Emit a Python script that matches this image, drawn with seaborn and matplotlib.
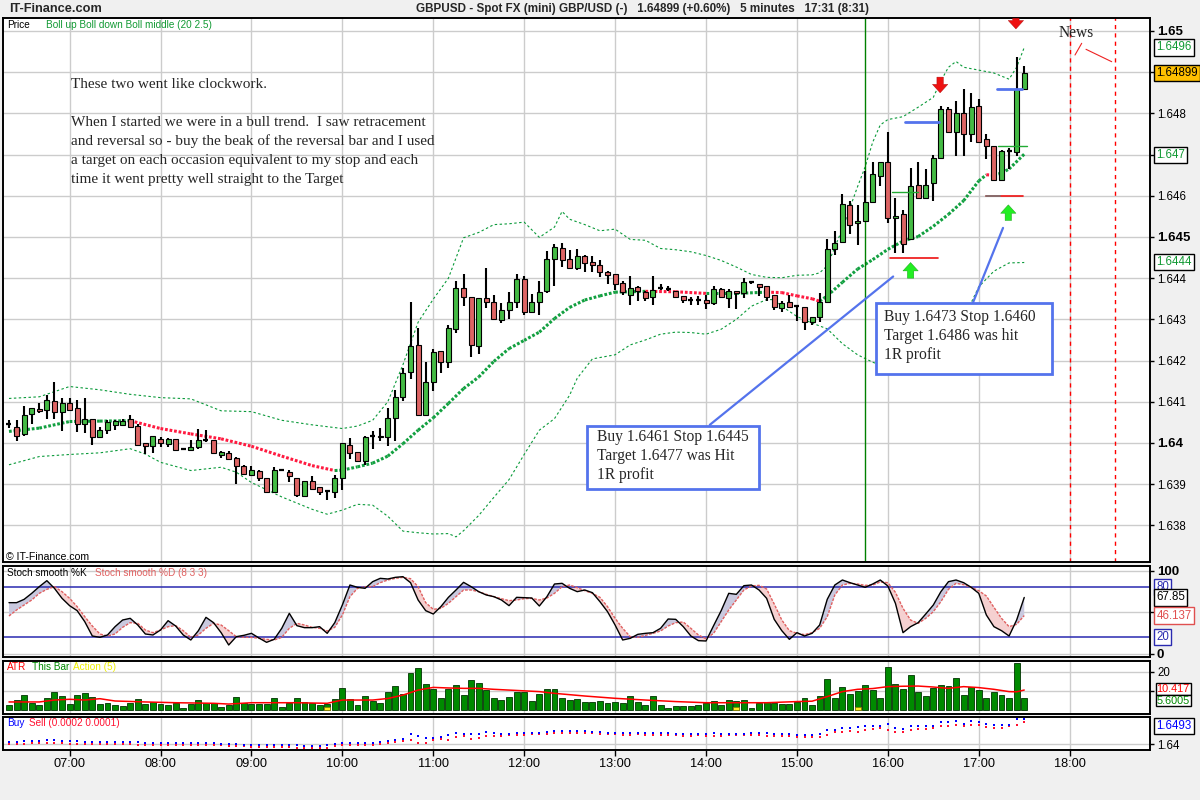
import matplotlib
matplotlib.use("Agg")
import matplotlib.pyplot as plt
import seaborn as sns
import numpy as np
import pandas as pd
from matplotlib.patches import Rectangle
from matplotlib.lines import Line2D
from matplotlib.transforms import blended_transform_factory as btf

# ---------------- data ----------------
hour_bars = [8, 20, 32, 44, 56, 68, 80, 92, 104, 116, 128, 140]
hour_labels = ["07:00", "08:00", "09:00", "10:00", "11:00", "12:00",
               "13:00", "14:00", "15:00", "16:00", "17:00", "18:00"]

opens = [1.64047, 1.64039, 1.64021, 1.64071, 1.64082, 1.64080, 1.64102, 1.64076, 1.64098, 1.64084,
         1.64047, 1.64057, 1.64014, 1.64031, 1.64043, 1.64043, 1.64057, 1.64041, 1.63999, 1.63992,
         1.64010, 1.63998, 1.64010, 1.63986, 1.63983, 1.63989, 1.64006, 1.64006, 1.63971, 1.63975,
         1.63963, 1.63945, 1.63923, 1.63933, 1.63916, 1.63882, 1.63934, 1.63929, 1.63914, 1.63871,
         1.63908, 1.63892, 1.63884, 1.63882, 1.63916, 1.63996, 1.63978, 1.63957, 1.64018, 1.64018,
         1.64014, 1.64061, 1.64112, 1.64172, 1.64237, 1.64068, 1.64148, 1.64222, 1.64196, 1.64277,
         1.64375, 1.64355, 1.64235, 1.64351, 1.64343, 1.64298, 1.64322, 1.64341, 1.64399, 1.64319,
         1.64341, 1.64369, 1.64447, 1.64473, 1.64447, 1.64425, 1.64455, 1.64439, 1.64433, 1.64416,
         1.64409, 1.64389, 1.64358, 1.64378, 1.64367, 1.64355, 1.64377, 1.64374, 1.64369, 1.64356,
         1.64348, 1.64348, 1.64348, 1.64340, 1.64374, 1.64352, 1.64369, 1.64363, 1.64391, 1.64386,
         1.64381, 1.64358, 1.64328, 1.64343, 1.64332, 1.64330, 1.64294, 1.64306, 1.64343, 1.64471,
         1.64488, 1.64578, 1.64534, 1.64538, 1.64584, 1.64649, 1.64683, 1.64545, 1.64555, 1.64496,
         1.64627, 1.64594, 1.64631, 1.64691, 1.64811, 1.64756, 1.64800, 1.64750, 1.64817, 1.64739,
         1.64721, 1.64638, 1.64709, 1.64707, 1.64859]
highs = [1.64055, 1.64055, 1.64090, 1.64084, 1.64096, 1.64116, 1.64149, 1.64108, 1.64108, 1.64104,
         1.64110, 1.64057, 1.64039, 1.64055, 1.64055, 1.64059, 1.64067, 1.64045, 1.64000, 1.64016,
         1.64014, 1.64013, 1.64010, 1.63988, 1.64008, 1.64035, 1.64031, 1.64008, 1.63980, 1.63980,
         1.63965, 1.63947, 1.63943, 1.63934, 1.63916, 1.63941, 1.63936, 1.63934, 1.63914, 1.63908,
         1.63919, 1.63894, 1.63886, 1.63922, 1.64000, 1.64012, 1.63978, 1.64017, 1.64029, 1.64036,
         1.64084, 1.64129, 1.64182, 1.64343, 1.64279, 1.64196, 1.64227, 1.64222, 1.64286, 1.64393,
         1.64409, 1.64355, 1.64353, 1.64425, 1.64359, 1.64339, 1.64367, 1.64409, 1.64405, 1.64361,
         1.64393, 1.64467, 1.64484, 1.64486, 1.64469, 1.64472, 1.64457, 1.64455, 1.64445, 1.64417,
         1.64409, 1.64393, 1.64406, 1.64382, 1.64369, 1.64405, 1.64386, 1.64381, 1.64369, 1.64356,
         1.64355, 1.64356, 1.64358, 1.64381, 1.64377, 1.64374, 1.64370, 1.64401, 1.64394, 1.64386,
         1.64382, 1.64358, 1.64344, 1.64358, 1.64335, 1.64330, 1.64306, 1.64363, 1.64496, 1.64515,
         1.64604, 1.64588, 1.64577, 1.64661, 1.64681, 1.64683, 1.64756, 1.64594, 1.64566, 1.64667,
         1.64681, 1.64665, 1.64699, 1.64817, 1.64815, 1.64831, 1.64859, 1.64849, 1.64835, 1.64750,
         1.64721, 1.64711, 1.64716, 1.64936, 1.64914]
lows = [1.64036, 1.64004, 1.64018, 1.64047, 1.64073, 1.64058, 1.64058, 1.64028, 1.64080, 1.64027,
        1.64025, 1.63996, 1.64014, 1.64022, 1.64031, 1.64041, 1.64036, 1.63992, 1.63974, 1.63976,
        1.63990, 1.63990, 1.63980, 1.63984, 1.63983, 1.63986, 1.64002, 1.63972, 1.63963, 1.63960,
        1.63900, 1.63922, 1.63919, 1.63907, 1.63881, 1.63881, 1.63932, 1.63906, 1.63869, 1.63871,
        1.63888, 1.63873, 1.63862, 1.63867, 1.63886, 1.63960, 1.63956, 1.63947, 1.63986, 1.64004,
        1.63992, 1.64004, 1.64102, 1.64155, 1.64068, 1.64066, 1.64126, 1.64170, 1.64182, 1.64266,
        1.64333, 1.64208, 1.64216, 1.64327, 1.64301, 1.64290, 1.64302, 1.64327, 1.64311, 1.64319,
        1.64311, 1.64365, 1.64380, 1.64428, 1.64425, 1.64420, 1.64416, 1.64415, 1.64403, 1.64385,
        1.64371, 1.64360, 1.64335, 1.64344, 1.64344, 1.64335, 1.64371, 1.64370, 1.64352, 1.64339,
        1.64335, 1.64335, 1.64324, 1.64336, 1.64352, 1.64328, 1.64324, 1.64351, 1.64386, 1.64356,
        1.64344, 1.64323, 1.64318, 1.64327, 1.64296, 1.64274, 1.64286, 1.64294, 1.64340, 1.64456,
        1.64487, 1.64507, 1.64480, 1.64538, 1.64584, 1.64624, 1.64535, 1.64462, 1.64462, 1.64495,
        1.64594, 1.64594, 1.64588, 1.64691, 1.64755, 1.64697, 1.64697, 1.64731, 1.64731, 1.64689,
        1.64638, 1.64638, 1.64665, 1.64697, 1.64859]
closes = [1.64047, 1.64018, 1.64067, 1.64084, 1.64077, 1.64104, 1.64076, 1.64098, 1.64080, 1.64047,
          1.64059, 1.64014, 1.64032, 1.64051, 1.64053, 1.64053, 1.64039, 1.63994, 1.63992, 1.64016,
          1.64000, 1.64010, 1.63984, 1.63986, 1.63990, 1.64008, 1.64006, 1.63975, 1.63978, 1.63961,
          1.63943, 1.63924, 1.63934, 1.63914, 1.63882, 1.63934, 1.63934, 1.63919, 1.63874, 1.63908,
          1.63889, 1.63882, 1.63884, 1.63916, 1.64000, 1.63975, 1.63956, 1.64014, 1.64018, 1.64014,
          1.64061, 1.64112, 1.64170, 1.64235, 1.64068, 1.64148, 1.64220, 1.64196, 1.64279, 1.64375,
          1.64355, 1.64237, 1.64351, 1.64341, 1.64301, 1.64322, 1.64341, 1.64399, 1.64319, 1.64343,
          1.64367, 1.64447, 1.64476, 1.64445, 1.64425, 1.64453, 1.64436, 1.64432, 1.64416, 1.64408,
          1.64387, 1.64366, 1.64377, 1.64369, 1.64352, 1.64371, 1.64377, 1.64374, 1.64355, 1.64348,
          1.64348, 1.64348, 1.64340, 1.64374, 1.64355, 1.64369, 1.64365, 1.64391, 1.64391, 1.64379,
          1.64355, 1.64331, 1.64340, 1.64330, 1.64332, 1.64294, 1.64306, 1.64343, 1.64471, 1.64485,
          1.64580, 1.64530, 1.64539, 1.64586, 1.64653, 1.64681, 1.64545, 1.64551, 1.64484, 1.64624,
          1.64594, 1.64627, 1.64691, 1.64811, 1.64755, 1.64800, 1.64751, 1.64815, 1.64731, 1.64720,
          1.64638, 1.64708, 1.64709, 1.64859, 1.64899]

upper_idx = [0, 4, 8, 12, 16, 20, 24, 28, 32, 36, 40, 44, 46, 48, 50, 52, 54, 56, 58, 60, 62, 64,
             66, 68, 70, 72, 73, 74, 76, 78, 80, 82, 84, 86, 88, 90, 92, 94, 96, 98, 100, 102, 104,
             106, 107, 108, 110, 112, 113, 114, 115, 116, 118, 120, 122, 123, 124, 125, 126, 128,
             130, 132, 133, 134]
upper_val = [1.64108, 1.64112, 1.64137, 1.64129, 1.64118, 1.64110, 1.64107, 1.64078, 1.64076,
             1.64055, 1.64044, 1.64035, 1.64041, 1.64055, 1.64100, 1.64190, 1.64293, 1.64349,
             1.64400, 1.64498, 1.64511, 1.64530, 1.64532, 1.64536, 1.64499, 1.64524, 1.64562,
             1.64543, 1.64530, 1.64515, 1.64519, 1.64494, 1.64492, 1.64472, 1.64469, 1.64464,
             1.64455, 1.64443, 1.64427, 1.64409, 1.64402, 1.64401, 1.64407, 1.64408, 1.64413,
             1.64430, 1.64520, 1.64622, 1.64670, 1.64730, 1.64772, 1.64785, 1.64792, 1.64815,
             1.64839, 1.64879, 1.64912, 1.64926, 1.64912, 1.64905, 1.64898, 1.64883, 1.64912,
             1.64960]
mid_idx = [0, 4, 8, 12, 16, 20, 24, 28, 32, 36, 40, 43, 44, 46, 48, 50, 52, 54, 56, 58, 60, 62,
           64, 66, 68, 70, 72, 74, 76, 78, 80, 84, 88, 92, 96, 100, 102, 104, 106, 107, 108, 110,
           112, 114, 116, 118, 120, 122, 124, 126, 128, 129, 130, 131, 132, 134]
mid_val = [1.64028, 1.64036, 1.64052, 1.64053, 1.64054, 1.64035, 1.64022, 1.64010, 1.63992,
           1.63968, 1.63945, 1.63933, 1.63934, 1.63942, 1.63951, 1.63968, 1.63998, 1.64031,
           1.64061, 1.64096, 1.64132, 1.64160, 1.64198, 1.64229, 1.64249, 1.64269, 1.64302,
           1.64329, 1.64347, 1.64357, 1.64366, 1.64368, 1.64367, 1.64363, 1.64363, 1.64366,
           1.64365, 1.64357, 1.64350, 1.64344, 1.64357, 1.64390, 1.64422, 1.64445, 1.64470,
           1.64490, 1.64501, 1.64526, 1.64555, 1.64588, 1.64636, 1.64651, 1.64650, 1.64655,
           1.64665, 1.64701]
lower_idx = [0, 4, 8, 12, 16, 18, 20, 24, 26, 28, 30, 32, 36, 40, 42, 44, 46, 48, 50, 52, 54, 56,
             58, 59, 60, 62, 64, 66, 68, 70, 72, 74, 75, 77, 80, 82, 84, 86, 88, 90, 92, 94, 96,
             98, 100, 101, 102, 104, 106, 108, 110, 112, 114, 116, 118, 120, 122, 124, 126, 128,
             130, 132, 134]
lower_val = [1.63947, 1.63967, 1.63972, 1.63976, 1.63986, 1.63973, 1.63953, 1.63933, 1.63937,
             1.63941, 1.63929, 1.63904, 1.63869, 1.63839, 1.63827, 1.63837, 1.63851, 1.63849,
             1.63822, 1.63786, 1.63782, 1.63779, 1.63780, 1.63772, 1.63787, 1.63824, 1.63868,
             1.63911, 1.63972, 1.64031, 1.64059, 1.64116, 1.64157, 1.64204, 1.64214, 1.64238,
             1.64250, 1.64264, 1.64269, 1.64268, 1.64264, 1.64276, 1.64300, 1.64332, 1.64348,
             1.64348, 1.64332, 1.64307, 1.64291, 1.64277, 1.64241, 1.64214, 1.64196, 1.64182,
             1.64181, 1.64191, 1.64211, 1.64241, 1.64302, 1.64379, 1.64417, 1.64437, 1.64438]

stoch_k = [61.6, 61.6, 65.6, 72.8, 80.8, 88, 78.8, 66.8, 58, 52,
           38.8, 21.6, 20, 22.8, 32.8, 40.8, 42.8, 34.8, 24, 22.8,
           28.8, 40, 33.6, 22.8, 16.8, 28, 44, 37.6, 25.6, 10.8,
           20.8, 22.4, 24.8, 19.2, 14, 17.6, 30.8, 48.8, 34, 31.6,
           31.6, 32.8, 24.8, 37.6, 58.8, 82.8, 80, 78.8, 86.8, 90.8,
           90, 92, 92.8, 85.6, 64.8, 52, 48, 56.8, 68, 76.8,
           86, 80.8, 74.8, 70.8, 68.8, 64.8, 58, 68, 67.6, 67.2,
           57.6, 68.8, 84, 84.8, 78.8, 74.8, 76.8, 73.6, 62.8, 50.8,
           34.8, 16.8, 18.8, 23.6, 24.8, 25.6, 30.8, 42, 41.6, 32.8,
           21.6, 16, 15.6, 34, 52, 72.8, 71.6, 82, 82.8, 76.8,
           66.8, 41.6, 28, 17.6, 25.6, 21.6, 24.8, 34.8, 65.6, 82.8,
           88.8, 85.6, 82.8, 80, 84, 88.8, 81.6, 60.8, 25.6, 32.8,
           37.6, 48, 58.8, 74.8, 86.8, 88.8, 85.6, 80, 72.8, 46.8,
           32.8, 28, 21.6, 40.8, 67.85]
stoch_d = [45.6, 52.8, 58.8, 64.8, 72.8, 77.6, 80.8, 74.8, 66.8, 56.8,
           44.8, 33.6, 24, 21.6, 24, 32, 37.6, 36.8, 28.8, 25.6,
           28.8, 32.8, 34, 28, 20, 22.8, 30.8, 36.8, 34.8, 28,
           20.8, 20, 20, 18.8, 17.6, 16.8, 20, 30.8, 36.8, 34.8,
           32, 30.8, 27.6, 32, 46.8, 68.8, 78.8, 80.8, 80.8, 85.6,
           88.8, 90.8, 92, 90.4, 80.8, 61.6, 53.6, 54.8, 60.8, 68.8,
           76.8, 76.8, 74.8, 71.6, 68.8, 66.4, 64, 64.8, 66.4, 66.8,
           64.8, 67.2, 72.8, 80.8, 82.8, 79.6, 76, 72.8, 68, 56.8,
           42.8, 30.8, 20.8, 20, 22.4, 24.8, 27.6, 33.6, 37.6, 38.4,
           30.8, 22.8, 18.4, 24.8, 38.8, 52.8, 64.8, 76.8, 81.6, 82.4,
           78, 60, 40.8, 28, 24.8, 23.2, 25.6, 30.8, 44.8, 70.8,
           82.8, 84.8, 84, 82.4, 82.8, 86.4, 85.6, 74, 54.8, 40.8,
           36.8, 42.8, 50.8, 62.8, 77.6, 84.8, 83.2, 80, 76, 69.6,
           56, 42.8, 32.8, 35.6, 46.137]

atr_bar = [2.6, 5.2, 7.8, 3.8, 2.6, 6.3, 9.4, 7.3, 3.1, 7.8,
           8.9, 6.8, 3.1, 3.7, 2.6, 2.1, 3.7, 5.7, 3.1, 4.2,
           3.1, 2.6, 3.7, 1.0, 3.1, 5.2, 3.7, 3.7, 1.6, 2.6,
           6.8, 3.7, 3.1, 3.1, 3.1, 6.3, 1.6, 3.7, 6.3, 4.2,
           3.7, 2.6, 3.1, 5.7, 11.5, 5.7, 2.6, 7.3, 4.7, 3.7,
           9.4, 12.5, 8.4, 19.1, 21.9, 13.4, 11.0, 6.3, 11.0, 13.1,
           7.8, 15.7, 13.9, 10.4, 6.3, 5.2, 6.8, 9.2, 9.2, 4.7,
           8.4, 11.0, 11.0, 6.3, 5.2, 5.7, 4.0, 4.0, 4.5, 3.7,
           4.0, 3.7, 7.1, 4.0, 2.4, 7.1, 2.4, 0.9, 2.1, 2.1,
           2.1, 2.4, 3.5, 4.5, 2.4, 5.0, 4.5, 5.0, 0.9, 3.5,
           4.0, 3.5, 3.1, 3.1, 4.0, 6.1, 2.4, 7.1, 16.0, 6.4,
           11.8, 8.2, 9.7, 12.9, 10.3, 6.1, 22.3, 13.4, 10.8, 18.1,
           9.2, 7.1, 11.3, 12.9, 12.4, 16.7, 7.7, 11.8, 10.4, 6.1,
           9.2, 7.7, 6.1, 24.4, 6.1]
atr_line_idx = [0, 4, 6, 8, 10, 12, 14, 18, 22, 27, 29, 32, 34, 38, 42, 44, 46, 48, 50, 52, 54,
                56, 58, 60, 62, 64, 66, 68, 70, 72, 74, 76, 80, 84, 88, 92, 96, 100, 104, 106,
                108, 110, 112, 114, 116, 118, 120, 122, 124, 126, 128, 130, 132, 133, 134]
atr_line_val = [4.2, 4.2, 5.2, 5.6, 5.2, 5.9, 4.7, 4.2, 3.8, 3.5, 3.1, 3.8, 3.8, 3.8, 3.5, 5.2,
                5.2, 5.2, 6.0, 7.8, 10.4, 11.8, 11.5, 11.3, 11.3, 10.8, 10.4, 10.0, 9.6, 8.7,
                8.0, 7.3, 6.1, 5.2, 4.4, 3.8, 3.8, 3.8, 4.4, 4.6, 7.0, 9.6, 10.8, 11.2, 12.2,
                12.4, 12.5, 12.0, 11.3, 12.2, 11.7, 10.8, 9.6, 9.5, 10.417]
action_idx = [42, 96, 112]
action_val = [1.6, 1.6, 1.6]

buy_level = [1.6407, 1.6407, 1.6411, 1.6411, 1.6411, 1.6415, 1.6415, 1.6411, 1.6411, 1.6411,
             1.6407, 1.6407, 1.6407, 1.6407, 1.6407, 1.6407, 1.6407, 1.6407, 1.6404, 1.6404,
             1.6404, 1.6404, 1.6404, 1.6404, 1.6404, 1.6404, 1.6404, 1.6404, 1.6400, 1.6400,
             1.6400, 1.6396, 1.6396, 1.6396, 1.6396, 1.6396, 1.6396, 1.6396, 1.6396, 1.6393,
             1.6393, 1.6393, 1.6396, 1.6400, 1.6404, 1.6404, 1.6404, 1.6404, 1.6404, 1.6407,
             1.6411, 1.6415, 1.6419, 1.6437, 1.6430, 1.6422, 1.6422, 1.6426, 1.6434, 1.6441,
             1.6437, 1.6437, 1.6437, 1.6445, 1.6441, 1.6437, 1.6437, 1.6441, 1.6441, 1.6441,
             1.6441, 1.6445, 1.6448, 1.6448, 1.6448, 1.6448,
             1.6448, 1.6445, 1.6445, 1.6441, 1.6441, 1.6441, 1.6441, 1.6441, 1.6441, 1.6441,
             1.6441, 1.6441, 1.6437, 1.6437, 1.6437, 1.6437, 1.6437, 1.6441, 1.6437, 1.6437,
             1.6437, 1.6437, 1.6441, 1.6441, 1.6441, 1.6437, 1.6437, 1.6437, 1.6434, 1.6434,
             1.6434, 1.6437, 1.6452, 1.6452, 1.6460, 1.6460, 1.6463, 1.6467, 1.6467, 1.6467,
             1.6474, 1.6460, 1.6456, 1.6467, 1.6467, 1.6467, 1.6467, 1.6482, 1.6482, 1.6486,
             1.6474, 1.6486, 1.6482, 1.6474, 1.6471, 1.6471, 1.6471, 1.6493, 1.6493]
sell_level = [1.6400, 1.6400, 1.6400, 1.6404, 1.6404, 1.6404, 1.6404, 1.6404, 1.6400, 1.6400,
              1.6400, 1.6400, 1.6400, 1.6400, 1.6400, 1.6400, 1.6400, 1.6396, 1.6396, 1.6396,
              1.6396, 1.6396, 1.6396, 1.6396, 1.6396, 1.6396, 1.6396, 1.6396, 1.6396, 1.6393,
              1.6393, 1.6393, 1.6389, 1.6389, 1.6389, 1.6389, 1.6389, 1.6389, 1.6385, 1.6385,
              1.6385, 1.6385, 1.6385, 1.6393, 1.6396, 1.6396, 1.6396, 1.6396, 1.6396, 1.6400,
              1.6404, 1.6407, 1.6411, 1.6415, 1.6404, 1.6404, 1.6415, 1.6419, 1.6415, 1.6426,
              1.6430, 1.6419, 1.6422, 1.6430, 1.6430, 1.6430, 1.6434, 1.6434, 1.6434, 1.6437,
              1.6437, 1.6437, 1.6441, 1.6441, 1.6441, 1.6441,
              1.6441, 1.6441, 1.6437, 1.6437, 1.6437, 1.6434, 1.6434, 1.6437, 1.6434, 1.6434,
              1.6434, 1.6434, 1.6434, 1.6430, 1.6430, 1.6434, 1.6430, 1.6430, 1.6430, 1.6434,
              1.6434, 1.6434, 1.6434, 1.6434, 1.6430, 1.6430, 1.6430, 1.6430, 1.6426, 1.6426,
              1.6426, 1.6426, 1.6434, 1.6445, 1.6445, 1.6448, 1.6445, 1.6452, 1.6456, 1.6460,
              1.6452, 1.6445, 1.6445, 1.6452, 1.6456, 1.6456, 1.6460, 1.6467, 1.6467, 1.6471,
              1.6467, 1.6471, 1.6471, 1.6463, 1.6460, 1.6460, 1.6467, 1.6471, 1.6482]

# trade markers: (start bar, end bar, price)
entry_lines = [(116.5, 120.0, 1.6461), (130.5, 134.3, 1.6472)]
target_lines = [(118.3, 122.8, 1.6478), (130.4, 133.7, 1.6486)]
stop_lines = [(116.3, 122.6, 1.6445), (129.0, 133.8, 1.6460)]
up_arrows = [(119.0, 1.64400, 1.64438), (131.9, 1.64540, 1.64578)]
down_arrows = [(122.9, 1.64888, 1.64850), (132.9, 1.65031, 1.65005)]
session_bar = 113
news_bars = [140, 146]

# ---------------- styling ----------------
sns.set_theme(style="white")
plt.rcParams["font.family"] = ["Liberation Sans", "DejaVu Sans"]

W, H = 1200, 800
fig = plt.figure(figsize=(12, 8), dpi=100, facecolor="#f0f0f0")
L, R = 3.3, 1150.0


def rect(top, bottom):
    return [L / W, 1 - bottom / H, (R - L) / W, (bottom - top) / H]


def fx(x):
    return x / W


def fy(y):
    return 1 - y / H


ax_p = fig.add_axes(rect(18.3, 562))
ax_s = fig.add_axes(rect(566, 657.3))
ax_a = fig.add_axes(rect(660.7, 714))
ax_b = fig.add_axes(rect(717.3, 750))
axes = [ax_p, ax_s, ax_a, ax_b]

grid_c = "#cccccc"
for ax in axes:
    ax.set_facecolor("white")
    ax.set_xlim(-0.75, 150.6)
    for sp in ax.spines.values():
        sp.set_color("black")
        sp.set_linewidth(1.4)
    ax.set_xticks(hour_bars)
    ax.yaxis.tick_right()
    ax.grid(True, color=grid_c, lw=1.0)
    ax.set_axisbelow(True)
    ax.tick_params(axis="x", length=0, labelbottom=False)
    ax.tick_params(axis="y", length=3, width=1, pad=2, labelsize=8.3, colors="black")

n_all = np.arange(len(closes))

# ---------------- price panel ----------------
ax_p.set_ylim(1.63711, 1.650308)
pticks = [1.638, 1.639, 1.640, 1.641, 1.642, 1.643, 1.644, 1.645, 1.646, 1.647, 1.648, 1.649, 1.650]
plabels = ["1.638", "1.639", "1.64", "1.641", "1.642", "1.643", "1.644", "1.645", "1.646", "", "1.648", "", "1.65"]
ax_p.set_yticks(pticks)
ax_p.set_yticklabels(plabels)
for t, lab in zip(ax_p.get_yticklabels(), plabels):
    if lab in ("1.64", "1.645", "1.65"):
        t.set_fontweight("bold")
        t.set_fontsize(9.5)

band_green = "#0a9a3a"
sns.lineplot(x=upper_idx, y=upper_val, ax=ax_p, color=band_green, lw=0.8, ls=(0, (2.2, 2.2)),
             estimator=None, sort=False, legend=False, zorder=2)
sns.lineplot(x=lower_idx, y=lower_val, ax=ax_p, color=band_green, lw=0.8, ls=(0, (2.2, 2.2)),
             estimator=None, sort=False, legend=False, zorder=2)
for i in range(len(mid_idx) - 1):
    c = "#12a040" if mid_val[i + 1] >= mid_val[i] else "#ff1a40"
    ax_p.plot(mid_idx[i:i + 2], mid_val[i:i + 2], color=c, lw=2.2, ls=(0, (0.9, 0.6)),
              solid_capstyle="butt", zorder=2)

ax_p.axvline(session_bar, color="#008000", lw=1.0, zorder=2)
for nb in news_bars:
    ax_p.axvline(nb, color="#ff0000", lw=1.0, ls=(0, (3, 3)), zorder=2)

o = np.array(opens)
c = np.array(closes)
hgh = np.array(highs)
low = np.array(lows)
ax_p.vlines(n_all, low, hgh, color="black", lw=1.5, zorder=3)
up = c > o
dn = c < o
dj = c == o
ax_p.bar(n_all[up], (c - o)[up], bottom=o[up], width=0.66, color="#44bb44",
         edgecolor="black", lw=0.8, zorder=4)
ax_p.bar(n_all[dn], (o - c)[dn], bottom=c[dn], width=0.66, color="#dd6464",
         edgecolor="black", lw=0.8, zorder=4)
ax_p.hlines(c[dj], n_all[dj] - 0.33, n_all[dj] + 0.33, color="black", lw=1.6, zorder=4)

blue_c = "#5473ec"
for a, b, p in entry_lines:
    ax_p.plot([a, b], [p, p], color="#22aa33", lw=1.0, zorder=5)
for a, b, p in target_lines:
    ax_p.plot([a, b], [p, p], color=blue_c, lw=2.0, zorder=5)
for a, b, p in stop_lines:
    ax_p.plot([a, b], [p, p], color="#ee1111", lw=1.2, zorder=5)
ax_p.plot([stop_lines[1][0], stop_lines[1][0] + 1.8], [stop_lines[1][2]] * 2, color="#777777",
          lw=1.2, zorder=6)
for nb, p0, p1 in up_arrows:
    ax_p.annotate("", xy=(nb, p1), xytext=(nb, p0),
                  arrowprops=dict(arrowstyle="simple,head_length=0.55,head_width=1.0,tail_width=0.42",
                                  fc="#22ee22", ec="#119911", lw=0.3, shrinkA=0, shrinkB=0,
                                  mutation_scale=11), zorder=7)
for nb, p0, p1 in down_arrows:
    ax_p.annotate("", xy=(nb, p1), xytext=(nb, p0),
                  arrowprops=dict(arrowstyle="simple,head_length=0.55,head_width=1.0,tail_width=0.42",
                                  fc="#ee1111", ec="#aa0000", lw=0.3, shrinkA=0, shrinkB=0,
                                  mutation_scale=11), zorder=7)

# connector lines and boxes (data coordinates)
ax_p.plot([92.5, 116.7], [1.64044, 1.64404], color=blue_c, lw=1.6, zorder=5)
ax_p.plot([127.2, 131.2], [1.64339, 1.64522], color=blue_c, lw=1.6, zorder=5)
ax_p.add_patch(Rectangle((76.3, 1.63888), 99.0 - 76.3, 1.64042 - 1.63888, fc="white",
                         ec=blue_c, lw=2.0, zorder=8))
ax_p.add_patch(Rectangle((114.4, 1.64167), 137.6 - 114.4, 1.64339 - 1.64167, fc="white",
                         ec=blue_c, lw=2.0, zorder=8))

serif = ["Liberation Serif", "DejaVu Serif"]
box1 = ["Buy 1.6461 Stop 1.6445", "Target 1.6477 was Hit", "1R profit"]
for s_, yy in zip(box1, [436.7, 456.0, 475.0]):
    fig.text(fx(597), fy(yy), s_, fontsize=11.2, family=serif, va="center", ha="left", zorder=20)
box2 = ["Buy 1.6473 Stop 1.6460", "Target 1.6486 was hit", "1R profit"]
for s_, yy in zip(box2, [317.3, 336.0, 355.0]):
    fig.text(fx(884.5), fy(yy), s_, fontsize=11.2, family=serif, va="center", ha="left", zorder=20)

main_lines = ["These two went like clockwork.",
              "When I started we were in a bull trend.  I saw retracement",
              "and reversal so - buy the beak of the reversal bar and I used",
              "a target on each occasion equivalent to my stop and each",
              "time it went pretty well straight to the Target"]
for s_, yy in zip(main_lines, [84.0, 122.3, 141.3, 160.3, 179.3]):
    fig.text(fx(70.7), fy(yy), s_, fontsize=10.95, family=serif, va="center", ha="left")

fig.text(fx(1059), fy(33), "News", fontsize=11.2, family=serif, va="center", ha="left", color="#222222")
fig.add_artist(Line2D([fx(1075), fx(1081.7)], [fy(55), fy(43.3)], color="#ee2222", lw=0.8))
fig.add_artist(Line2D([fx(1086), fx(1111.7)], [fy(49.3), fy(61.7)], color="#ee2222", lw=0.8))

# panel labels
fig.text(fx(7.6), fy(24.5), "Price", fontsize=7.2, color="black", va="center")
fig.text(fx(46), fy(24.5), "Boll up Boll down Boll middle (20 2.5)", fontsize=7.2, color="#119933", va="center")
fig.text(fx(5.5), fy(557.3), "\u00a9 IT-Finance.com", fontsize=7.6, color="black", va="center")


# value boxes on the right
def vbox(ax, y, txt, tc, fc="white", ec="black", trans=None, fs=8.3, pad=0.18):
    tr = trans if trans is not None else btf(fig.transFigure, ax.transData)
    ax.text(fx(1156.5), y, txt, transform=tr, fontsize=fs, color=tc, va="center", ha="left",
            bbox=dict(boxstyle="square,pad=%.2f" % pad, fc=fc, ec=ec, lw=1.0), zorder=30, clip_on=False)


vbox(ax_p, 1.6496, "1.6496", "#119933")
vbox(ax_p, 1.64899, "1.64899", "black", fc="#ffc000")
vbox(ax_p, 1.6470, "1.647", "#119933")
vbox(ax_p, 1.6444, "1.6444", "#119933")

# ---------------- stochastic panel ----------------
ax_s.set_ylim(-3.96, 105.6)
ax_s.set_yticks([0, 50, 100])
ax_s.set_yticklabels(["0", "", "100"])
for t in ax_s.get_yticklabels():
    t.set_fontweight("bold")
    t.set_fontsize(9.5)
K = np.array(stoch_k)
D = np.array(stoch_d)
ax_s.fill_between(n_all, K, D, where=K >= D, interpolate=True, color="#c9c9df", lw=0, zorder=1.5)
ax_s.fill_between(n_all, K, D, where=K < D, interpolate=True, color="#f5d0d0", lw=0, zorder=1.5)
ax_s.axhline(80, color="#2a2ab0", lw=1.1, zorder=2)
ax_s.axhline(20, color="#2a2ab0", lw=1.1, zorder=2)
sns.lineplot(x=n_all, y=D, ax=ax_s, color="#e06060", lw=1.0, ls=(0, (2, 1)), estimator=None,
             sort=False, legend=False, zorder=3)
sns.lineplot(x=n_all, y=K, ax=ax_s, color="black", lw=1.0, estimator=None, sort=False,
             legend=False, zorder=4)
fig.text(fx(7.4), fy(573), "Stoch smooth %K", fontsize=7.2, color="black", va="center")
fig.text(fx(95), fy(573), "Stoch smooth %D (8 3 3)", fontsize=7.2, color="#e06060", va="center")
vbox(ax_s, 80, "80", "#2a2ab0", ec="#2a2ab0")
vbox(ax_s, 67.85, "67.85", "black")
vbox(ax_s, 46.137, "46.137", "#e05050", ec="#e05050")
vbox(ax_s, 20, "20", "#2a2ab0", ec="#2a2ab0")

# ---------------- ATR panel ----------------
ax_a.set_ylim(-2.09, 25.74)
ax_a.set_yticks([10, 20])
ax_a.set_yticklabels(["", "20"])
ax_a.bar(n_all, atr_bar, width=0.78, color="#008a00", edgecolor="#003300", lw=0.6, zorder=2)
ax_a.bar(action_idx, action_val, width=0.78, color="#ffee22", edgecolor="#887700", lw=0.5, zorder=3)
sns.lineplot(x=atr_line_idx, y=atr_line_val, ax=ax_a, color="#ff0000", lw=1.1, estimator=None,
             sort=False, legend=False, zorder=4)
fig.text(fx(6.7), fy(667), "ATR", fontsize=7.2, color="#ff0000", va="center")
fig.text(fx(32), fy(667), "This Bar", fontsize=7.2, color="#008a00", va="center")
fig.text(fx(73), fy(667), "Action (5)", fontsize=7.2, color="#eeee00", va="center")
atr_tr = btf(fig.transFigure, fig.transFigure)
ax_a.text(fx(1156.5), fy(689.3), "10.417", transform=atr_tr, fontsize=7.8, color="#ff0000",
          va="center", ha="left", zorder=30, clip_on=False,
          bbox=dict(boxstyle="square,pad=0.08", fc="white", ec="black", lw=1.0))
ax_a.text(fx(1156.5), fy(700.6), "5.6005", transform=atr_tr, fontsize=7.8, color="#008a00",
          va="center", ha="left", zorder=30, clip_on=False,
          bbox=dict(boxstyle="square,pad=0.08", fc="white", ec="black", lw=1.0))

# ---------------- Buy / Sell panel ----------------
ax_b.set_ylim(1.63777, 1.64993)
ax_b.set_yticks([1.64])
ax_b.set_yticklabels(["1.64"])
sns.scatterplot(x=n_all, y=sell_level, ax=ax_b, color="#ff1030", marker="s", s=4, linewidth=0,
                legend=False, zorder=3)
sns.scatterplot(x=n_all, y=buy_level, ax=ax_b, color="#0000ff", marker="s", s=4, linewidth=0,
                legend=False, zorder=4)
fig.text(fx(7), fy(723), "Buy", fontsize=7.2, color="#0000ff", va="center")
fig.text(fx(29), fy(723), "Sell (0.0002 0.0001)", fontsize=7.2, color="#ff1030", va="center")
vbox(ax_b, 0.743, "1.6493", "#0000ff", trans=btf(fig.transFigure, ax_b.transAxes))
ax_b.set_xticklabels(hour_labels)
ax_b.tick_params(axis="x", length=4, width=1, pad=1.5, labelbottom=True, labelsize=9.2,
                 direction="out", colors="black")
ax_b.tick_params(axis="x", which="both", bottom=True)

for ax in axes:
    ax.set_xlabel("")
    ax.set_ylabel("")

# ---------------- title bar ----------------
fig.text(fx(9.6), fy(9.3), "IT-Finance.com", fontsize=9.2, fontweight="bold", va="center")
fig.text(fx(416), fy(9.3),
         "GBPUSD - Spot FX (mini) GBP/USD (-)   1.64899 (+0.60%)   5 minutes   17:31 (8:31)",
         fontsize=8.4, fontweight="bold", va="center", ha="left")

fig.savefig("out.png", dpi=100, facecolor=fig.get_facecolor())
